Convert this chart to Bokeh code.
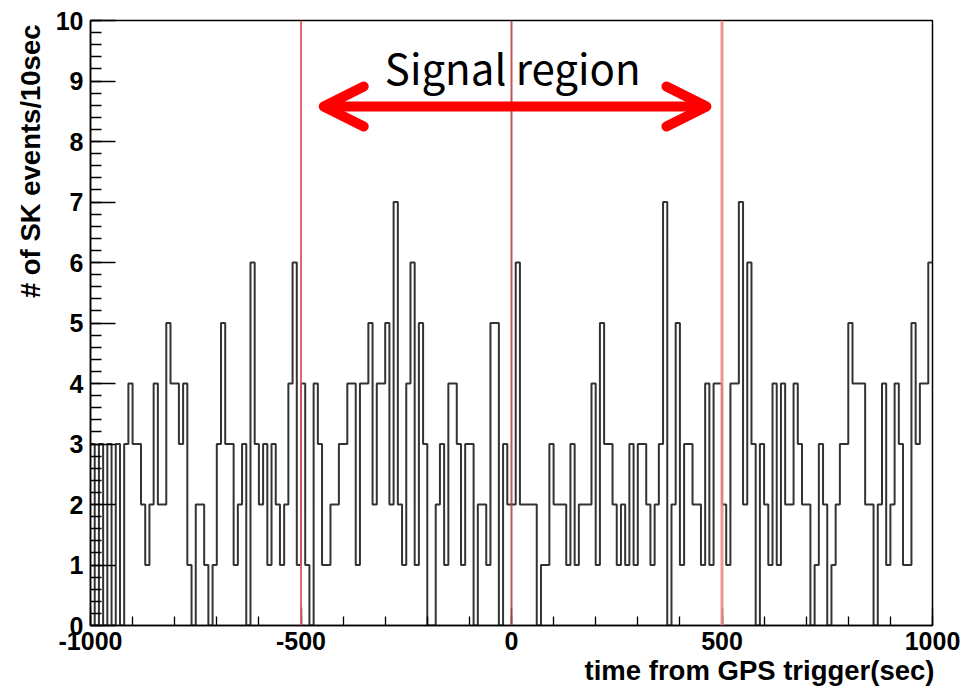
import numpy as np
from bokeh.plotting import figure
from bokeh.models import Range1d, FixedTicker, Label, Arrow, OpenHead, Span, Title
from bokeh.embed import file_html
from bokeh.resources import INLINE

# ---- data -------------------------------------------------------------
bin_start = -1000
bin_stop = 1000
bin_width = 10

# SK events per 10 sec bin (200 bins, -1000 .. 1000 sec)
counts = [
    3, 0, 3, 0, 3, 0, 3, 0, 3, 4,
    3, 3, 2, 1, 2, 4, 2, 2, 5, 4,
    4, 3, 4, 1, 0, 2, 2, 1, 0, 1,
    3, 5, 3, 3, 1, 2, 3, 0, 6, 3,
    2, 3, 1, 3, 2, 1, 2, 4, 6, 1,
    4, 1, 0, 4, 3, 1, 1, 2, 2, 3,
    3, 4, 4, 1, 4, 4, 5, 2, 4, 4,
    5, 2, 7, 2, 1, 4, 6, 1, 5, 3,
    0, 0, 2, 3, 1, 4, 4, 3, 1, 3,
    3, 0, 2, 2, 1, 5, 5, 0, 3, 2,
    2, 6, 2, 2, 2, 2, 0, 1, 1, 3,
    2, 2, 2, 1, 3, 1, 2, 2, 2, 4,
    1, 5, 3, 3, 2, 1, 2, 1, 3, 1,
    3, 3, 2, 1, 2, 3, 7, 0, 2, 5,
    1, 3, 3, 2, 2, 1, 4, 1, 4, 4,
    2, 1, 4, 4, 7, 2, 6, 3, 0, 3,
    2, 1, 4, 1, 4, 2, 2, 4, 3, 2,
    2, 0, 1, 3, 2, 0, 1, 2, 3, 3,
    5, 4, 4, 4, 2, 2, 0, 2, 4, 1,
    2, 4, 3, 1, 1, 5, 3, 4, 4, 6,
]

x_ticks = [-1000, -500, 0, 500, 1000]
x_tick_labels = ["-1000", "-500", "0", "500", "1000"]
y_ticks = [0, 1, 2, 3, 4, 5, 6, 7, 8, 9, 10]
signal_lines = [-500, 0, 500]
signal_line_colors = ["#dd5a5a", "#b84444", "#ef8a8a"]
signal_line_widths = [2, 2, 3]

arrow_x = [-446, 463]
arrow_y = 8.58
signal_text = "Signal region"
y_title = "# of SK events/10sec"
x_title = "time from GPS trigger(sec)"

# ---- figure -----------------------------------------------------------
W, H = 968, 687
p = figure(width=W, height=H, output_backend="svg", toolbar_location=None,
           x_range=Range1d(bin_start, bin_stop), y_range=Range1d(0, 10),
           min_border_left=90, min_border_right=36,
           min_border_top=20, min_border_bottom=62)
p.background_fill_color = "white"
p.border_fill_color = "white"
p.outline_line_color = "black"
p.outline_line_width = 1.5
p.xgrid.visible = False
p.ygrid.visible = False

edges = np.arange(bin_start, bin_stop + bin_width, bin_width)
ys = list(counts) + [counts[-1]]
p.step(x=edges, y=ys, mode="after", line_color="#333333", line_width=2)

for xv, col, lw in zip(signal_lines, signal_line_colors, signal_line_widths):
    p.add_layout(Span(location=xv, dimension="height", line_color=col,
                      line_width=lw, line_alpha=0.9))

# axes
xa = p.xaxis[0]
xa.ticker = FixedTicker(ticks=x_ticks, minor_ticks=list(range(-1000, 1001, 100)))
xa.major_label_overrides = {t: s for t, s in zip(x_ticks, x_tick_labels)}
ya = p.yaxis[0]
ya.ticker = FixedTicker(ticks=y_ticks, minor_ticks=[i * 0.2 for i in range(51)])
for ax, maj, mnr, stand in ((xa, 18, 9, 6), (ya, 25, 11, 7)):
    ax.axis_line_color = "black"
    ax.axis_line_width = 1.5
    ax.major_tick_in = maj
    ax.major_tick_out = 0
    ax.minor_tick_in = mnr
    ax.minor_tick_out = 0
    ax.major_tick_line_color = "black"
    ax.minor_tick_line_color = "black"
    ax.major_tick_line_width = 1.3
    ax.minor_tick_line_width = 1.3
    ax.major_label_text_font = "Liberation Sans"
    ax.major_label_text_font_style = "bold"
    ax.major_label_text_font_size = "25px"
    ax.major_label_text_color = "black"
    ax.major_label_standoff = stand

# axis titles (ROOT style: at the end of the axes)
p.add_layout(Title(text=x_title, align="right", text_font="Liberation Sans",
                   text_font_style="bold", text_font_size="27.5px",
                   text_color="black", standoff=0, offset=-2), "below")
p.add_layout(Title(text=y_title, align="right", text_font="Liberation Sans",
                   text_font_style="bold", text_font_size="27.5px",
                   text_color="black", standoff=14, offset=4), "left")

# signal region annotation
p.add_layout(Arrow(x_start=arrow_x[0], y_start=arrow_y, x_end=arrow_x[1], y_end=arrow_y,
                   line_color="#ff0000", line_width=10,
                   start=OpenHead(size=40, line_color="#ff0000", line_width=10,
                                  line_cap="round", line_join="round"),
                   end=OpenHead(size=40, line_color="#ff0000", line_width=10,
                                line_cap="round", line_join="round")))
p.add_layout(Label(x=3, y=9.24, text=signal_text, text_align="center",
                   text_baseline="middle", text_font="Noto Sans CJK JP",
                   text_font_size="42px", text_color="black"))

open("out.html", "w").write(file_html(p, INLINE))
